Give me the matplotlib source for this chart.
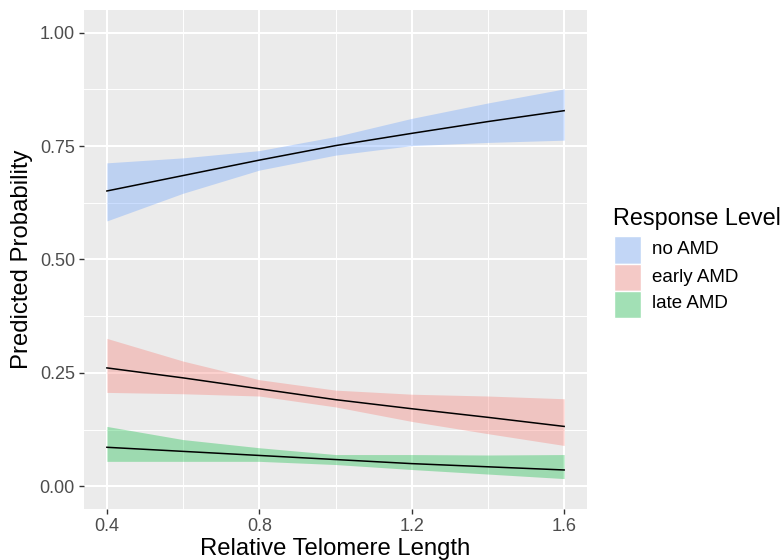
import numpy as np
import matplotlib
matplotlib.use("Agg")
import matplotlib.pyplot as plt
from matplotlib.patches import Rectangle
from matplotlib.colors import to_rgb

plt.rcParams['font.family'] = ['Liberation Sans', 'DejaVu Sans']

# values
telomere = [0.4, 0.6, 0.8, 1.0, 1.2, 1.4, 1.6]

no_amd_fit = [0.651, 0.685, 0.719, 0.751, 0.778, 0.804, 0.828]
no_amd_hi = [0.713, 0.724, 0.740, 0.771, 0.811, 0.845, 0.876]
no_amd_lo = [0.585, 0.646, 0.697, 0.730, 0.751, 0.758, 0.763]

early_fit = [0.261, 0.239, 0.215, 0.191, 0.171, 0.152, 0.132]
early_hi = [0.326, 0.276, 0.235, 0.212, 0.203, 0.199, 0.193]
early_lo = [0.207, 0.204, 0.199, 0.175, 0.143, 0.116, 0.090]

late_fit = [0.086, 0.077, 0.068, 0.059, 0.050, 0.043, 0.036]
late_hi = [0.132, 0.103, 0.085, 0.070, 0.070, 0.069, 0.070]
late_lo = [0.055, 0.055, 0.055, 0.048, 0.037, 0.027, 0.017]

levels = ["no AMD", "early AMD", "late AMD"]
colors = ["#619CFF", "#F8766D", "#00BA38"]
alpha = 0.33

series = [(no_amd_fit, no_amd_lo, no_amd_hi),
          (early_fit, early_lo, early_hi),
          (late_fit, late_lo, late_hi)]

W, H = 783, 560
fig = plt.figure(figsize=[W / 100, H / 100], dpi=100)
ax = fig.add_axes([0.1073, 0.0911, 0.6424, 0.8911])
ax.set_facecolor("#EBEBEB")

for (fit, lo, hi), col in zip(series, colors):
    ax.fill_between(telomere, lo, hi, color=col, alpha=alpha, linewidth=0, zorder=2)
    ax.plot(telomere, fit, color="black", linewidth=1.1, zorder=3)

ax.set_xlim(0.34, 1.66)
ax.set_ylim(-0.05, 1.05)
ax.set_xticks([0.4, 0.8, 1.2, 1.6])
ax.set_xticklabels(["0.4", "0.8", "1.2", "1.6"])
ax.set_yticks([0.0, 0.25, 0.5, 0.75, 1.0])
ax.set_yticklabels(["0.00", "0.25", "0.50", "0.75", "1.00"])
ax.set_xticks([0.6, 1.0, 1.4], minor=True)
ax.set_yticks([0.125, 0.375, 0.625, 0.875], minor=True)
ax.grid(which="major", color="white", linewidth=1.5, zorder=0)
ax.grid(which="minor", color="white", linewidth=0.7, zorder=0)
ax.set_axisbelow(True)
for s in ax.spines.values():
    s.set_visible(False)
ax.tick_params(which="major", length=3.5, width=1, color="#333333",
               labelsize=13, labelcolor="#4D4D4D", pad=3)
ax.tick_params(which="minor", length=0)

ax.set_xlabel("Relative Telomere Length", fontsize=17.2, labelpad=2)
ax.set_ylabel("Predicted Probability", fontsize=17.2, labelpad=5)

# legend drawn by hand, ggplot style (pixel layout -> figure fraction)
fig.text(613 / W, 1 - 225 / H, "Response Level", fontsize=16.8, va="baseline", ha="left")
bg = np.array(to_rgb("#F2F2F2"))
for i, (lev, col) in enumerate(zip(levels, colors)):
    blend = alpha * np.array(to_rgb(col)) + (1 - alpha) * bg
    top = 236.5 + i * 27
    fig.add_artist(Rectangle((614 / W, 1 - (top + 27) / H), 27 / W, 27 / H,
                             transform=fig.transFigure, facecolor=blend,
                             edgecolor="white", linewidth=1))
    fig.text(652 / W, 1 - (top + 13.5) / H, lev, fontsize=13.5, va="center", ha="left")

fig.savefig("out.png", dpi=100)
